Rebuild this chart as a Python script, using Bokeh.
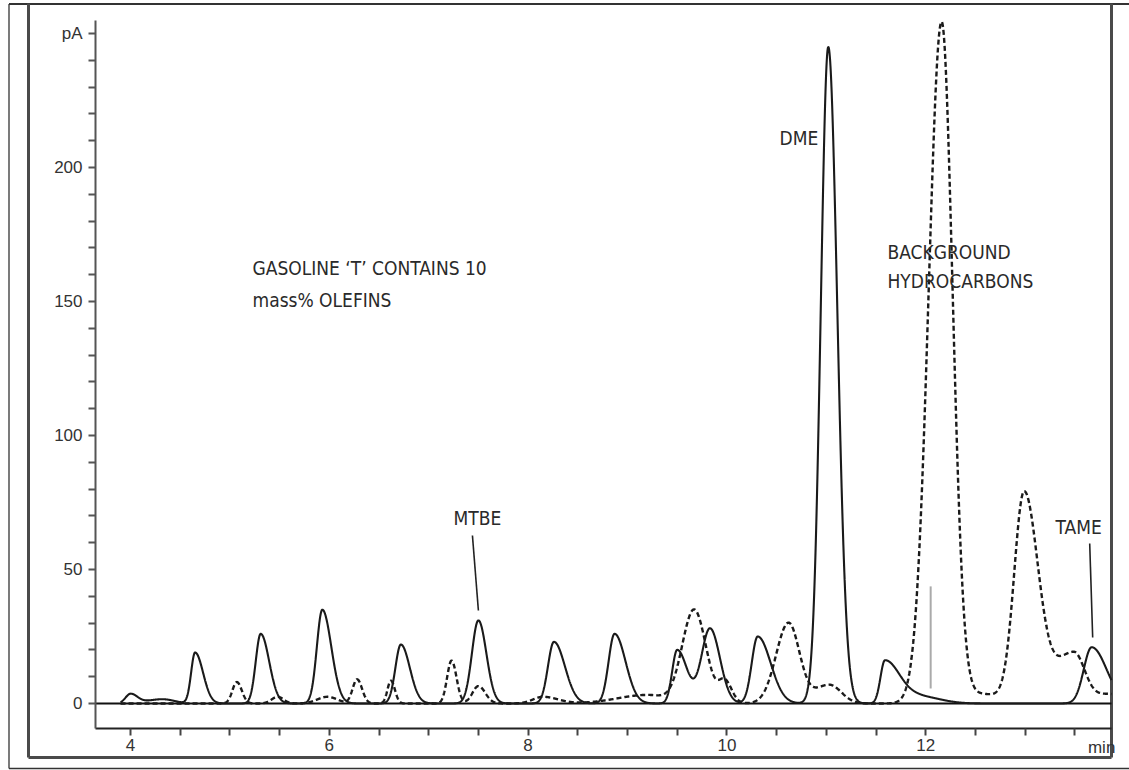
import numpy as np
from bokeh.plotting import figure
from bokeh.models import Range1d, FixedTicker, ColumnDataSource, LinearAxis
from bokeh.core.properties import value
from bokeh.embed import file_html
from bokeh.resources import INLINE

# ---------------- data ----------------
# solid trace: sample (gasoline 'T' + oxygenates)
solid_rt     = [4.00, 4.32, 4.65, 5.31, 5.93, 6.72, 7.50, 8.26, 8.87, 9.50, 9.83, 10.31, 11.02, 11.59, 11.95, 13.67]
solid_height = [3.5, 1.6, 19.0, 26.0, 35.0, 22.0, 31.0, 23.0, 26.0, 20.0, 28.0, 25.0, 245.0, 16.0, 2.5, 21.0]
solid_wl     = [0.05, 0.15, 0.04, 0.05, 0.055, 0.055, 0.065, 0.06, 0.06, 0.05, 0.085, 0.06, 0.075, 0.045, 0.15, 0.08]
solid_wr     = [0.07, 0.12, 0.08, 0.085, 0.09, 0.09, 0.08, 0.11, 0.11, 0.10, 0.10, 0.13, 0.09, 0.15, 0.20, 0.15]

# dashed trace: background hydrocarbons
dashed_rt     = [5.07, 5.48, 5.98, 6.28, 6.62, 7.23, 7.50, 8.15, 9.20, 9.67, 9.98, 10.62, 11.03, 12.16, 12.57, 12.99, 13.49, 13.85]
dashed_height = [8.0, 2.5, 2.5, 9.0, 8.5, 16.0, 6.5, 2.5, 3.2, 35.0, 8.0, 30.0, 7.0, 254.0, 3.5, 78.0, 19.0, 3.5]
dashed_wl     = [0.045, 0.06, 0.10, 0.045, 0.035, 0.045, 0.06, 0.10, 0.30, 0.12, 0.06, 0.125, 0.15, 0.13, 0.20, 0.10, 0.20, 0.15]
dashed_wr     = [0.05, 0.06, 0.10, 0.05, 0.04, 0.05, 0.07, 0.15, 0.18, 0.12, 0.07, 0.11, 0.12, 0.11, 0.20, 0.14, 0.11, 0.20]

x_label_ticks = [4, 6, 8, 10, 12]
x_tick_marks  = [4, 4.5, 5, 5.5, 6, 6.5, 7, 7.5, 8, 8.5, 9, 9.5, 10, 10.5, 11, 11.5, 12, 12.5, 13, 13.5]
x_unit_label  = "min"
y_major_ticks = [0, 50, 100, 150, 200, 250]
y_minor_ticks = [10, 20, 30, 40, 60, 70, 80, 90, 110, 120, 130, 140, 160, 170, 180, 190, 210, 220, 230, 240]
y_label_overrides = {250: "pA"}

annotations = ["GASOLINE \u2018T\u2019 CONTAINS 10", "mass% OLEFINS", "DME",
               "BACKGROUND", "HYDROCARBONS", "MTBE", "TAME"]

# ---------------- trace construction ----------------
def trace(t, rt, h, wl, wr):
    y = np.zeros_like(t)
    for r, hh, a, b in zip(rt, h, wl, wr):
        d = t - r
        s = np.where(d < 0, a, b)
        y += hh * np.exp(-0.5 * (d / s) ** 2)
    return y

# plotting area (axis extents)
X0, X1 = 3.648, 13.869
Y0, Y1 = -9.33, 254.85

t = np.linspace(3.9, X1, 4000)
src = ColumnDataSource(dict(t=t,
                            solid=trace(t, solid_rt, solid_height, solid_wl, solid_wr),
                            dashed=trace(t, dashed_rt, dashed_height, dashed_wl, dashed_wr)))

# ---------------- figure ----------------
W, H = 1129, 770
XPX, YPX = 99.4, 2.68          # pixels per data unit
XL = 4 - 130 / XPX             # data x at canvas left
YT = 703 / YPX                 # data y at canvas top
def px(xp):
    return XL + xp / XPX
def py(yp):
    return YT - yp / YPX

p = figure(width=W, height=H, output_backend="svg", toolbar_location=None,
           x_range=Range1d(XL, XL + W / XPX), y_range=Range1d(YT - H / YPX, YT),
           min_border=0, x_axis_type=None, y_axis_type=None,
           background_fill_color="white", border_fill_color="white")
p.outline_line_color = None
p.grid.visible = False

tick_font = "'Liberation Sans', Arial, sans-serif"
ann_font = "'DejaVu Sans Condensed', 'Liberation Sans', sans-serif"

# x axis (labels only on the major ticks, marks every half minute)
xa = LinearAxis(fixed_location=Y0, bounds=(X0, X1))
xa.ticker = FixedTicker(ticks=x_label_ticks, minor_ticks=x_tick_marks)
xa.axis_line_color = "#222222"
xa.axis_line_width = 2.2
xa.major_tick_line_color = None
xa.major_tick_in = 0
xa.major_tick_out = 7
xa.minor_tick_line_color = "#444444"
xa.minor_tick_line_width = 2
xa.minor_tick_in = 0
xa.minor_tick_out = 7
xa.major_label_standoff = 3
xa.major_label_text_font = tick_font
xa.major_label_text_font_size = "17px"
xa.major_label_text_color = "#333333"
p.add_layout(xa, "below")

ya = LinearAxis(fixed_location=X0, bounds=(Y0, Y1))
ya.ticker = FixedTicker(ticks=y_major_ticks, minor_ticks=y_minor_ticks)
ya.major_label_overrides = y_label_overrides
ya.axis_line_color = "#555555"
ya.axis_line_width = 2
ya.major_tick_line_color = "#555555"
ya.minor_tick_line_color = "#555555"
ya.major_tick_line_width = 2
ya.minor_tick_line_width = 2
ya.major_tick_in = 0
ya.major_tick_out = 7
ya.minor_tick_in = 0
ya.minor_tick_out = 7
ya.major_label_standoff = 6
ya.major_label_text_font = tick_font
ya.major_label_text_font_size = "17px"
ya.major_label_text_color = "#333333"
p.add_layout(ya, "left")

# frames: outer thin and inner heavy box
p.segment(x0=[px(8.5), px(8.5)], y0=[py(3.5), py(768)], x1=[px(8.5), px(1135)], y1=[py(768), py(768)],
          line_color="#333333", line_width=1.3)
p.segment(x0=[px(8.5)], y0=[py(3.5)], x1=[px(1135)], y1=[py(3.5)], line_color="#333333", line_width=2)
p.segment(x0=[px(28), px(28), px(1111)], y0=[py(3), py(757), py(757)],
          x1=[px(28), px(1111), px(1111)], y1=[py(757), py(757), py(3)],
          line_color="#4a4a4a", line_width=3)

# zero baseline
p.segment(x0=[X0], y0=[0], x1=[X1], y1=[0], line_color="#111111", line_width=2.2)

# traces
p.line("t", "dashed", source=src, line_color="#1a1a1a", line_width=2.4, line_dash="5 3")
p.line("t", "solid", source=src, line_color="#1a1a1a", line_width=2.1)

# leader lines and marker line
p.segment(x0=[7.44, 13.65], y0=[62.7, 59.7], x1=[7.50, 13.68], y1=[34.7, 24.6],
          line_color="#222222", line_width=1.6)
p.segment(x0=[12.05], y0=[43.7], x1=[12.05], y1=[5.6], line_color="#aaaaaa", line_width=2)

# annotation texts
ann_pos = [(px(252), py(267)), (px(252), py(299)), (px(779), py(137)), (px(887), py(251)),
           (px(887), py(280)), (px(453), py(517)), (px(1055), py(526))]
p.text(x=[a[0] for a in ann_pos], y=[a[1] for a in ann_pos], text=annotations,
       text_font=value(ann_font), text_font_size="19px", text_color="#2a2a2a",
       text_baseline="middle", text_align="left")

p.text(x=[13.77], y=[py(747)], text=[x_unit_label], text_font=value(tick_font),
       text_font_size="17px", text_color="#333333", text_baseline="middle", text_align="center")

open("out.html", "w").write(file_html(p, INLINE))
